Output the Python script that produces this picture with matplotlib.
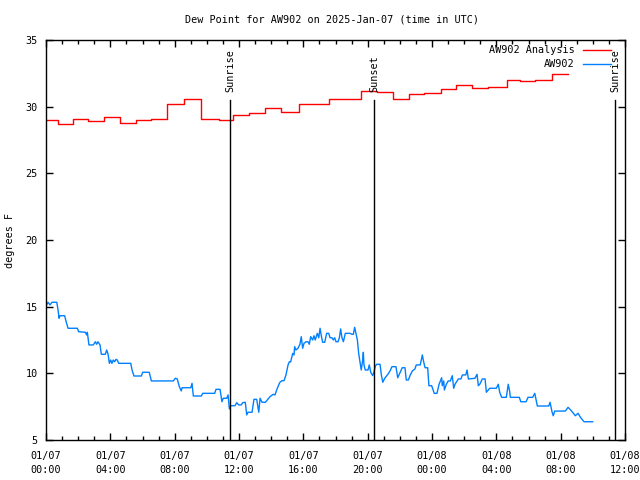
import matplotlib
matplotlib.use("Agg")
import matplotlib.pyplot as plt
import matplotlib.transforms as mtransforms
from matplotlib.ticker import MultipleLocator

# ---------------- data ----------------
title = "Dew Point for AW902 on 2025-Jan-07 (time in UTC)"
ylabel = "degrees F"

x_tick_hours = [0, 4, 8, 12, 16, 20, 24, 28, 32, 36]
x_tick_labels = ["01/07\n00:00", "01/07\n04:00", "01/07\n08:00", "01/07\n12:00",
                 "01/07\n16:00", "01/07\n20:00", "01/08\n00:00", "01/08\n04:00",
                 "01/08\n08:00", "01/08\n12:00"]
y_ticks = [5, 10, 15, 20, 25, 30, 35]

# AW902 Analysis (hours since 01/07 00:00 UTC, step values)
analysis_hours = [0, 0.75, 1.65, 2.64, 3.6, 4.6, 5.6, 6.53, 7.52, 8.58, 9.64, 10.73,
                  11.6, 12.6, 13.6, 14.6, 15.7, 17.57, 19.56, 20.55, 21.58, 22.57,
                  23.5, 24.53, 25.47, 26.5, 27.46, 28.67, 29.48, 30.41, 31.44, 32.46]
analysis_vals = [29.0, 28.7, 29.1, 28.9, 29.2, 28.8, 29.0, 29.05, 30.2, 30.55, 29.1, 29.0,
                 29.4, 29.5, 29.9, 29.6, 30.2, 30.6, 31.2, 31.1, 30.6, 30.95,
                 31.0, 31.3, 31.6, 31.4, 31.5, 32.0, 31.9, 32.0, 32.45, 32.45]

# AW902 observations
obs_hours = [0.04, 0.12, 0.25, 0.37, 0.67, 0.75, 0.81, 0.87, 1.16, 1.24, 1.37, 1.95, 2.03,
             2.44, 2.53, 2.57, 2.67, 2.94, 3.07, 3.15, 3.23, 3.36, 3.44, 3.69, 3.77, 3.86,
             3.94, 4.02, 4.10, 4.18, 4.27, 4.35, 4.43, 4.52, 5.27, 5.35, 5.47, 5.93, 6.01,
             6.42, 6.55, 7.92, 8.04, 8.16, 8.29, 8.41, 8.46, 9.0, 9.08, 9.16, 9.66, 9.74,
             10.49, 10.57, 10.82, 10.94, 11.02, 11.24, 11.32, 11.4, 11.48, 11.75, 11.86,
             11.98, 12.14, 12.23, 12.39, 12.48, 12.56, 12.81, 12.93, 13.1, 13.23, 13.31,
             13.43, 13.64, 13.76, 13.93, 14.13, 14.24, 14.34, 14.51, 14.55, 14.67, 14.8,
             14.92, 15.05, 15.13, 15.21, 15.34, 15.42, 15.46, 15.54, 15.67, 15.79, 15.87,
             15.96, 16.04, 16.17, 16.29, 16.37, 16.46, 16.58, 16.66, 16.74, 16.87, 16.96,
             17.04, 17.12, 17.2, 17.33, 17.45, 17.58, 17.66, 17.78, 17.86, 17.95, 18.03,
             18.16, 18.24, 18.32, 18.4, 18.49, 18.61, 18.9, 19.03, 19.11, 19.19, 19.28,
             19.36, 19.44, 19.52, 19.6, 19.69, 19.73, 19.77, 19.85, 20.02, 20.1, 20.19,
             20.31, 20.39, 20.48, 20.56, 20.77, 20.85, 20.94, 21.06, 21.26, 21.39, 21.51,
             21.76, 21.87, 21.99, 22.15, 22.32, 22.4, 22.53, 22.65, 22.78, 22.94, 23.02,
             23.27, 23.4, 23.48, 23.57, 23.73, 23.81, 23.98, 24.14, 24.31, 24.44, 24.6,
             24.64, 24.73, 24.77, 24.89, 25.01, 25.14, 25.26, 25.35, 25.43, 25.64, 25.8,
             25.89, 26.1, 26.18, 26.26, 26.34, 26.67, 26.8, 26.88, 26.97, 27.13, 27.3,
             27.38, 27.59, 28.0, 28.12, 28.21, 28.33, 28.62, 28.74, 28.83, 28.87, 29.43,
             29.52, 29.85, 29.97, 30.26, 30.39, 30.55, 31.26, 31.34, 31.46, 31.54, 31.63,
             32.29, 32.46, 32.66, 32.91, 33.08, 33.25, 33.45, 33.99]
obs_vals = [15.13, 15.33, 15.13, 15.33, 15.33, 14.75, 14.13, 14.32, 14.32, 13.93, 13.38, 13.38,
            13.12, 13.08, 12.88, 13.08, 12.13, 12.13, 12.37, 12.18, 12.37, 12.13, 11.43, 11.43,
            11.75, 11.43, 10.75, 11.0, 10.75, 11.0, 10.87, 11.05, 11.0, 10.75, 10.75, 10.25,
            9.8, 9.8, 10.08, 10.08, 9.43, 9.43, 9.63, 9.58, 9.0, 8.68, 8.92, 8.92, 9.25, 8.3,
            8.3, 8.5, 8.5, 8.8, 8.8, 7.87, 8.13, 8.13, 8.38, 7.33, 7.57, 7.57, 7.8, 7.63,
            7.63, 7.8, 7.83, 6.88, 7.08, 7.08, 8.05, 8.05, 7.08, 8.13, 7.83, 7.83, 8.0, 8.25,
            8.43, 8.38, 8.75, 9.25, 9.33, 9.45, 9.45, 9.88, 10.63, 10.87, 10.85, 11.5, 11.38,
            12.0, 11.75, 11.88, 12.18, 12.75, 11.88, 12.25, 12.37, 12.37, 12.18, 12.75, 12.5,
            12.82, 12.5, 13.0, 12.67, 13.38, 12.8, 12.33, 12.33, 13.0, 13.0, 12.67, 12.67,
            12.5, 12.67, 12.37, 12.37, 12.67, 13.33, 12.67, 12.37, 13.0, 13.0, 12.93, 12.93,
            13.45, 12.93, 12.5, 11.5, 10.87, 10.25, 11.0, 11.58, 10.63, 10.25, 10.25, 10.63,
            10.08, 9.83, 10.08, 10.55, 10.68, 10.68, 9.88, 9.33, 9.63, 9.93, 10.18, 10.5,
            10.5, 9.67, 10.0, 10.42, 10.42, 9.5, 9.5, 9.88, 10.18, 10.33, 10.63, 10.63, 11.38,
            10.87, 10.42, 10.42, 9.07, 9.07, 8.5, 8.5, 9.18, 9.67, 9.07, 9.43, 8.75, 9.18,
            9.43, 9.43, 9.82, 8.88, 9.18, 9.58, 9.58, 9.88, 9.88, 10.25, 9.58, 9.58, 9.63,
            9.93, 9.07, 9.18, 9.58, 9.58, 8.58, 8.88, 8.88, 9.18, 8.58, 8.2, 8.2, 9.18, 8.63,
            8.2, 8.2, 7.87, 7.87, 8.2, 8.2, 8.5, 7.55, 7.55, 7.83, 7.12, 6.82, 7.17, 7.17,
            7.45, 7.2, 6.82, 7.0, 6.67, 6.37, 6.37]

event_labels = ["Sunrise", "Sunset", "Sunrise"]
event_hours = [11.44, 20.39, 35.38]

series_names = ["AW902 Analysis", "AW902"]
series_colors = ["#ff0000", "#0080ff"]

# ---------------- plot ----------------
plt.rcParams['font.family'] = ['DejaVu Sans Mono', 'DejaVu Sans']
FS = 7.3

fig = plt.figure(figsize=(6.4, 4.8), dpi=100)
ax = fig.add_axes([46 / 640, 40 / 480, 579 / 640, 400 / 480])

ax.plot(analysis_hours, analysis_vals, drawstyle='steps-post', color=series_colors[0],
        lw=1.0, label=series_names[0])
ax.plot(obs_hours, obs_vals, color=series_colors[1], lw=1.0, label=series_names[1])

trans = mtransforms.blended_transform_factory(ax.transData, ax.transAxes)
for lab, h in zip(event_labels, event_hours):
    ax.axvline(h, ymin=0, ymax=0.85, color='black', lw=1.0)
    ax.text(h, 0.87, lab, rotation=90, ha='center', va='bottom', fontsize=FS,
            transform=trans)

ax.set_xlim(0, 36)
ax.set_ylim(5, 35)
ax.set_xticks(x_tick_hours)
ax.set_xticklabels(x_tick_labels, fontsize=FS, linespacing=1.5)
ax.xaxis.set_minor_locator(MultipleLocator(1))
ax.set_yticks(y_ticks)
ax.set_yticklabels([str(v) for v in y_ticks], fontsize=FS)

ax.tick_params(axis='both', which='major', direction='in', length=5, width=1,
               top=True, right=True)
ax.tick_params(axis='x', which='major', pad=8)
ax.tick_params(axis='y', which='major', pad=6)
ax.tick_params(axis='x', which='minor', direction='in', length=3, width=1,
               top=True, bottom=True)
for s in ax.spines.values():
    s.set_linewidth(1.0)

fig.text(332 / 640, 1 - 19 / 480, title, fontsize=FS, ha='center', va='center')
fig.text(10 / 640, 0.5, ylabel, fontsize=FS, ha='center', va='center', rotation=90)

leg = ax.legend(loc='upper right', frameon=False, markerfirst=False, fontsize=FS,
                handlelength=2.8, handletextpad=0.8, labelspacing=0.4,
                borderaxespad=0.1, bbox_to_anchor=(0.985, 1.0))

fig.savefig("out.png", dpi=100)
